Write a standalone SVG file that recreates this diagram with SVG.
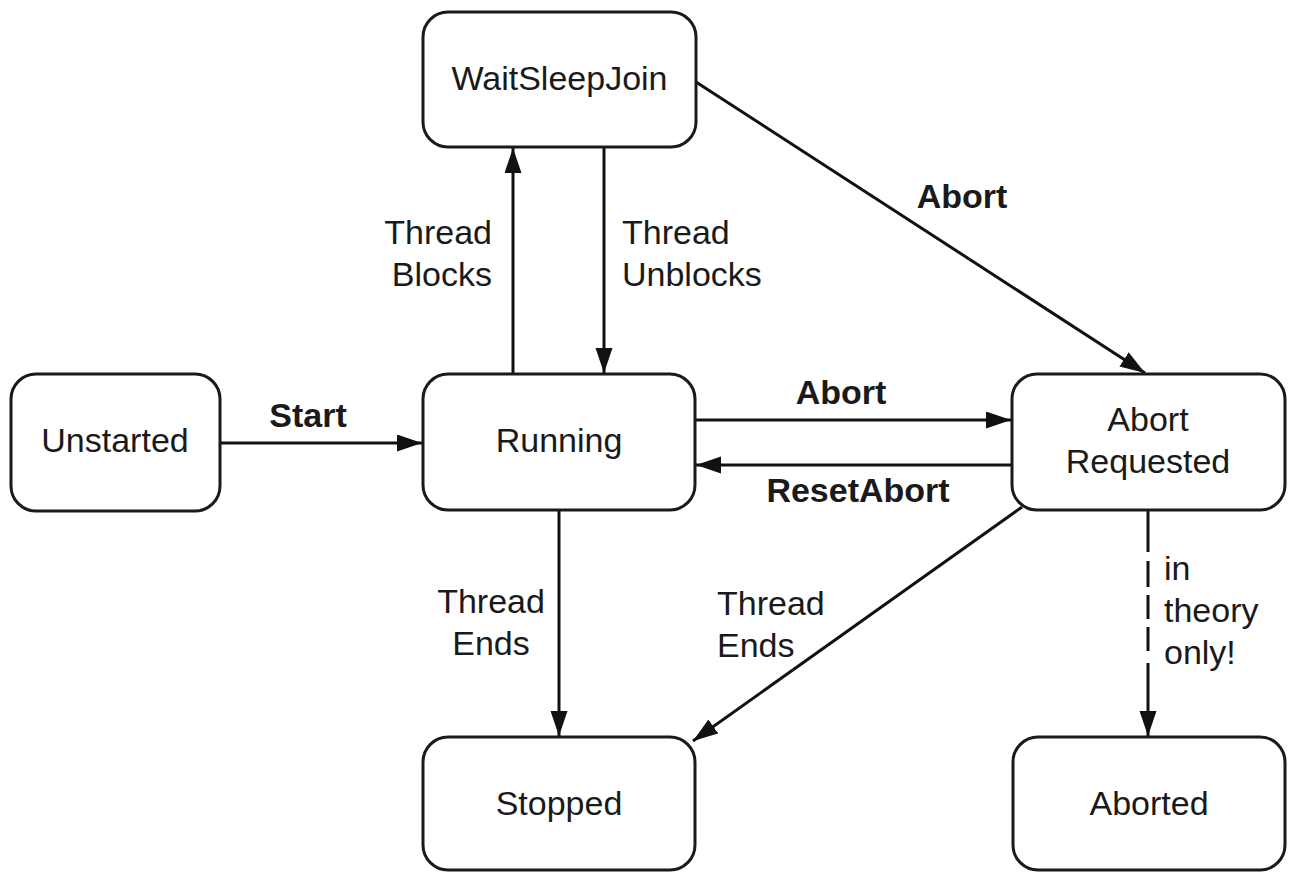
<svg xmlns="http://www.w3.org/2000/svg" width="1292" height="872" viewBox="0 0 1292 872">
<style>
.node rect{fill:#fff;stroke:#1a1a1a;stroke-width:3}
text{font-family:"Liberation Sans",Arial,sans-serif;font-size:34px;fill:#1a1a1a}
.c{text-anchor:middle}
.b{font-weight:bold}
.e{stroke:#111;stroke-width:3;fill:none;marker-end:url(#ah)}
.d{stroke-dasharray:42 9 26 8 24 8 24 12 300}
</style>
<defs>
<marker id="ah" markerUnits="userSpaceOnUse" markerWidth="26" markerHeight="18" refX="25" refY="8.5" orient="auto">
<path d="M0,0 L25,8.5 L0,17 Z" fill="#111"/>
</marker>
</defs>
<rect width="1292" height="872" fill="#fff"/>
<g id="edges">
<line class="e" x1="220" y1="443" x2="422" y2="443"/>
<line class="e" x1="513" y1="374" x2="513" y2="148"/>
<line class="e" x1="604" y1="148" x2="604" y2="373"/>
<line class="e" x1="696" y1="82" x2="1145" y2="373"/>
<line class="e" x1="695" y1="420" x2="1011" y2="420"/>
<line class="e" x1="1012" y1="465" x2="696" y2="465"/>
<line class="e" x1="559" y1="510" x2="559" y2="736"/>
<line class="e" x1="1022" y1="507" x2="693" y2="741"/>
<line class="e d" x1="1148" y1="510" x2="1148" y2="736"/>
<text class="c b" x="308" y="427">Start</text>
<text text-anchor="end" x="492" y="244">Thread</text>
<text text-anchor="end" x="492" y="286">Blocks</text>
<text x="622" y="244">Thread</text>
<text x="622" y="286">Unblocks</text>
<text class="c b" x="962" y="208">Abort</text>
<text class="c b" x="841" y="404">Abort</text>
<text class="c b" x="858" y="502">ResetAbort</text>
<text class="c" x="491" y="613">Thread</text>
<text class="c" x="491" y="655">Ends</text>
<text x="717" y="615">Thread</text>
<text x="717" y="657">Ends</text>
<text x="1164" y="580">in</text>
<text x="1164" y="622">theory</text>
<text x="1164" y="664">only!</text>
</g>
<g id="WaitSleepJoin" class="node"><rect x="423" y="12" width="273" height="135" rx="25"/><text class="c" x="559.5" y="90">WaitSleepJoin</text></g>
<g id="Unstarted" class="node"><rect x="11" y="374" width="209" height="137" rx="25"/><text class="c" x="115" y="452">Unstarted</text></g>
<g id="Running" class="node"><rect x="423" y="374" width="272" height="136" rx="25"/><text class="c" x="559" y="452">Running</text></g>
<g id="AbortRequested" class="node"><rect x="1012" y="374" width="273" height="136" rx="25"/><text class="c" x="1148" y="431">Abort</text><text class="c" x="1148" y="473">Requested</text></g>
<g id="Stopped" class="node"><rect x="423" y="737" width="272" height="133" rx="25"/><text class="c" x="559" y="815">Stopped</text></g>
<g id="Aborted" class="node"><rect x="1013" y="737" width="272" height="133" rx="25"/><text class="c" x="1149" y="815">Aborted</text></g>
</svg>
